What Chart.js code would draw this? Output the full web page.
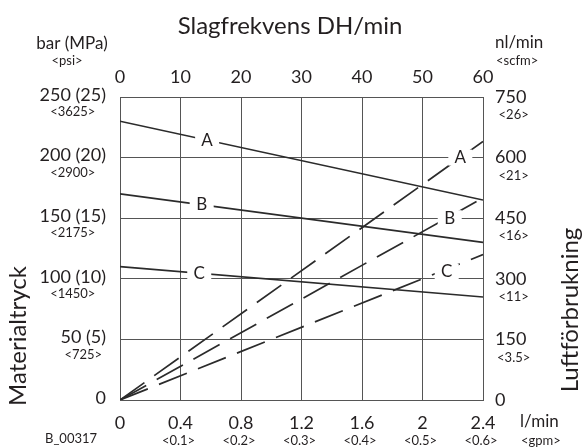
<!DOCTYPE html>
<html>
<head>
<meta charset="utf-8">
<script src="https://cdn.jsdelivr.net/npm/chart.js@4"></script>
<style>
  body { margin: 0; background: #fff; }
  #wrap { width: 583px; height: 448px; position: relative; }
</style>
</head>
<body>
<div id="wrap"><canvas id="chart"></canvas></div>
<script>
// top axis: slagfrekvens (DH/min), left axis: materialtryck (bar)
const freqTicks = [0, 10, 20, 30, 40, 50, 60];
const pressTicks = [0, 50, 100, 150, 200, 250];
const pressLabels = ['0', '50 (5)', '100 (10)', '150 (15)', '200 (20)', '250 (25)'];
const psiLabels = ['', '<725>', '<1450>', '<2175>', '<2900>', '<3625>'];

// bottom axis: flöde (l/min), right axis: luftförbrukning (nl/min)
const flowTicks = [0, 0.4, 0.8, 1.2, 1.6, 2, 2.4];
const flowLabels = ['0', '0.4', '0.8', '1.2', '1.6', '2', '2.4'];
const gpmLabels = ['', '<0.1>', '<0.2>', '<0.3>', '<0.4>', '<0.5>', '<0.6>'];
const airTicks = [0, 150, 300, 450, 600, 750];
const scfmLabels = ['', '<3.5>', '<11>', '<16>', '<21>', '<26>'];

// solid lines: pressure vs frequency
const freqX = [0, 60];
const pressA = [230, 165];
const pressB = [170, 130];
const pressC = [110, 85];

// dashed lines: air consumption vs flow
const flowX = [0, 2.4];
const airA = [0, 640];
const airB = [0, 500];
const airC = [0, 360];

// where the A/B/C letters sit
const lineNames = ['A', 'B', 'C'];
const pressLabelAt = [14.4, 13.5, 13.1];
const airLabelFlow = [2.25, 2.18, 2.16];
const airLabelValue = [600, 450, 318];

const FONT = 'Lato, "Open Sans", sans-serif';
const INK = '#231f20';
const LINE = '#2b2b2b';
const GRID = '#555';
const SUB = '13px ' + FONT;

function pts(xs, ys) {
    return xs.map((x, i) => ({x: x, y: ys[i]}));
}
function lerp(xs, ys, x) {
    return ys[0] + (ys[1] - ys[0]) * (x - xs[0]) / (xs[1] - xs[0]);
}
function fixTicks(values) {
    return s => { s.ticks = values.map(v => ({value: v})); };
}

const solidSets = [pressA, pressB, pressC];
const dashSets = [airA, airB, airC];

const datasets = [];
solidSets.forEach((d, i) => datasets.push({
    label: lineNames[i], data: pts(freqX, d), xAxisID: 'xTop', yAxisID: 'yLeft',
    borderColor: LINE, borderWidth: 1.7, pointRadius: 0, fill: false
}));
dashSets.forEach((d, i) => datasets.push({
    label: lineNames[i] + ' luft', data: pts(flowX, d), xAxisID: 'xBottom', yAxisID: 'yRight',
    borderColor: LINE, borderWidth: 1.7, borderDash: [30, 12], pointRadius: 0, fill: false
}));

const letters = {
    id: 'letters',
    afterDatasetsDraw(chart) {
        const ctx = chart.ctx;
        const s = chart.scales;
        ctx.save();
        ctx.font = '17px ' + FONT;
        ctx.textAlign = 'center';
        ctx.textBaseline = 'middle';
        const put = (txt, px, py) => {
            ctx.fillStyle = '#fff';
            ctx.fillRect(px - 12, py - 8, 24, 16);
            ctx.fillStyle = INK;
            ctx.fillText(txt, px, py);
        };
        lineNames.forEach((n, i) => {
            const f = pressLabelAt[i];
            put(n, s.xTop.getPixelForValue(f), s.yLeft.getPixelForValue(lerp(freqX, solidSets[i], f)));
            put(n, s.xBottom.getPixelForValue(airLabelFlow[i]), s.yRight.getPixelForValue(airLabelValue[i]));
        });
        ctx.restore();
    }
};

const extras = {
    id: 'extras',
    afterDraw(chart) {
        const ctx = chart.ctx;
        const a = chart.chartArea;
        const s = chart.scales;
        ctx.save();
        ctx.fillStyle = INK;
        ctx.textBaseline = 'middle';

        // small sub labels under the tick labels
        ctx.textAlign = 'center';
        const mainFont = '18px ' + FONT;
        pressTicks.forEach((v, i) => {
            if (!psiLabels[i]) return;
            ctx.font = mainFont;
            const w = ctx.measureText(pressLabels[i]).width;
            ctx.font = SUB;
            ctx.fillText(psiLabels[i], a.left - 14 - w / 2, s.yLeft.getPixelForValue(v) + 15);
        });
        airTicks.forEach((v, i) => {
            if (!scfmLabels[i]) return;
            ctx.font = mainFont;
            const w = ctx.measureText(String(v)).width;
            ctx.font = SUB;
            ctx.fillText(scfmLabels[i], a.right + 12 + w / 2 + 3, s.yRight.getPixelForValue(v) + 18);
        });
        ctx.font = SUB;
        flowTicks.forEach((v, i) => {
            if (!gpmLabels[i]) return;
            ctx.fillText(gpmLabels[i], s.xBottom.getPixelForValue(v) - 2, a.bottom + 41);
        });

        // axis names
        ctx.textAlign = 'center';
        ctx.font = '24px ' + FONT;
        ctx.fillText('Slagfrekvens DH/min', a.left + 170, 26);
        ctx.font = '17px ' + FONT;
        ctx.fillText('bar (MPa)', 72, 44);
        ctx.font = SUB;
        ctx.fillText('<psi>', 67, 61);

        ctx.textAlign = 'left';
        ctx.font = '17px ' + FONT;
        ctx.fillText('nl/min', a.right + 12, 43);
        ctx.fillText('l/min', a.right + 37, a.bottom + 22);
        ctx.font = SUB;
        ctx.fillText('<scfm>', a.right + 13, 61);
        ctx.fillText('<gpm>', a.right + 38, a.bottom + 41);
        ctx.fillText('B_00317', 45, a.bottom + 39);

        ctx.textAlign = 'center';
        ctx.font = '24px ' + FONT;
        ctx.translate(18, 336);
        ctx.rotate(-Math.PI / 2);
        ctx.fillText('Materialtryck', 0, 0);
        ctx.restore();

        ctx.save();
        ctx.fillStyle = INK;
        ctx.textAlign = 'center';
        ctx.textBaseline = 'middle';
        ctx.font = '24px ' + FONT;
        ctx.translate(570, 310);
        ctx.rotate(-Math.PI / 2);
        ctx.fillText('Luftförbrukning', 0, 0);
        ctx.restore();
    }
};

const tickFont = {family: FONT, size: 18};
const border = {display: true, color: GRID, width: 1};

new Chart(document.getElementById('chart').getContext('2d'), {
    type: 'line',
    data: {datasets: datasets},
    options: {
        responsive: true,
        maintainAspectRatio: false,
        animation: false,
        layout: {padding: 0},
        plugins: {legend: {display: false}, tooltip: {enabled: false}, title: {display: false}},
        scales: {
            xTop: {
                type: 'linear', position: 'top', min: 0, max: 60,
                afterBuildTicks: fixTicks(freqTicks),
                afterFit: s => { s.height = 97; },
                ticks: {font: tickFont, color: INK, padding: 9, maxRotation: 0, autoSkip: false},
                grid: {display: true, drawTicks: false, color: GRID},
                border: border
            },
            xBottom: {
                type: 'linear', position: 'bottom', min: 0, max: 2.4,
                afterBuildTicks: fixTicks(flowTicks),
                afterFit: s => { s.height = 48; },
                ticks: {font: tickFont, color: INK, padding: 12, maxRotation: 0, autoSkip: false,
                        callback: (v, i) => flowLabels[i]},
                grid: {display: false, drawTicks: false},
                border: border
            },
            yLeft: {
                type: 'linear', position: 'left', min: 0, max: 250,
                afterBuildTicks: fixTicks(pressTicks),
                afterFit: s => { s.width = 120; },
                ticks: {font: tickFont, color: INK, padding: 14, labelOffset: -2, autoSkip: false,
                        callback: (v, i) => pressLabels[i]},
                grid: {display: true, drawTicks: false, color: GRID},
                border: border
            },
            yRight: {
                type: 'linear', position: 'right', min: 0, max: 750,
                afterBuildTicks: fixTicks(airTicks),
                afterFit: s => { s.width = 100; },
                ticks: {font: tickFont, color: INK, padding: 12, autoSkip: false},
                grid: {display: false, drawTicks: false},
                border: border
            }
        }
    },
    plugins: [letters, extras]
});
</script>
</body>
</html>
